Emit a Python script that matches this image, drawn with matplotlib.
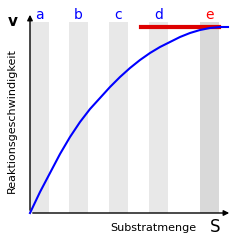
import matplotlib
matplotlib.use('Agg')
from matplotlib import pyplot as plt

# curve (x: substrate amount, y: rate)
sub = [0, 10, 20, 30, 40, 50, 60, 70, 80, 90, 100, 110, 120, 130, 140, 150,
       160, 170, 180, 190, 198]
rate = [0, 21, 40, 59, 76, 91, 104, 115, 126, 136, 145, 153, 160, 166, 171, 176,
        180, 183, 185, 186, 186]

letters = ['a', 'b', 'c', 'd', 'e']
band_left = [0, 39, 79, 119, 170]
band_width = 19
vmax_level = 186
vmax_from, vmax_to = 111, 189

fig = plt.figure(figsize=(2.4, 2.45), dpi=100)
ax = fig.add_axes([0, 0, 1, 1])
ax.set_xlim(-30, 210)
ax.set_ylim(-32, 213)
ax.axis('off')

for i, (l, x0) in enumerate(zip(letters, band_left)):
    col = '#d9d9d9' if l == 'e' else '#e8e8e8'
    ax.bar(x0, 191, width=band_width, align='edge', color=col, zorder=1)
    ax.text(x0 + band_width / 2, 198, l, color='red' if l == 'e' else 'blue',
            fontsize=10, ha='center', va='center')

ax.plot([vmax_from, vmax_to], [vmax_level, vmax_level], color='#dd0000', lw=3, zorder=3)
ax.plot(sub, rate, color='blue', lw=1.5, zorder=4, solid_joinstyle='round')

ax.annotate('', xy=(0, 201), xytext=(0, 0),
            arrowprops=dict(arrowstyle='-|>', color='black', lw=1, mutation_scale=8))
ax.annotate('', xy=(202, 0), xytext=(0, 0),
            arrowprops=dict(arrowstyle='-|>', color='black', lw=1, mutation_scale=8))

ax.text(-17, 191, 'v', fontsize=11, fontweight='bold', ha='center', va='center')
ax.text(-18, 92, 'Reaktionsgeschwindigkeit', fontsize=8, rotation=90,
        ha='center', va='center')
ax.text(123, -15, 'Substratmenge', fontsize=8, ha='center', va='center')
ax.text(185, -14, 'S', fontsize=12, ha='center', va='center')

plt.savefig('out.png', dpi=100)
